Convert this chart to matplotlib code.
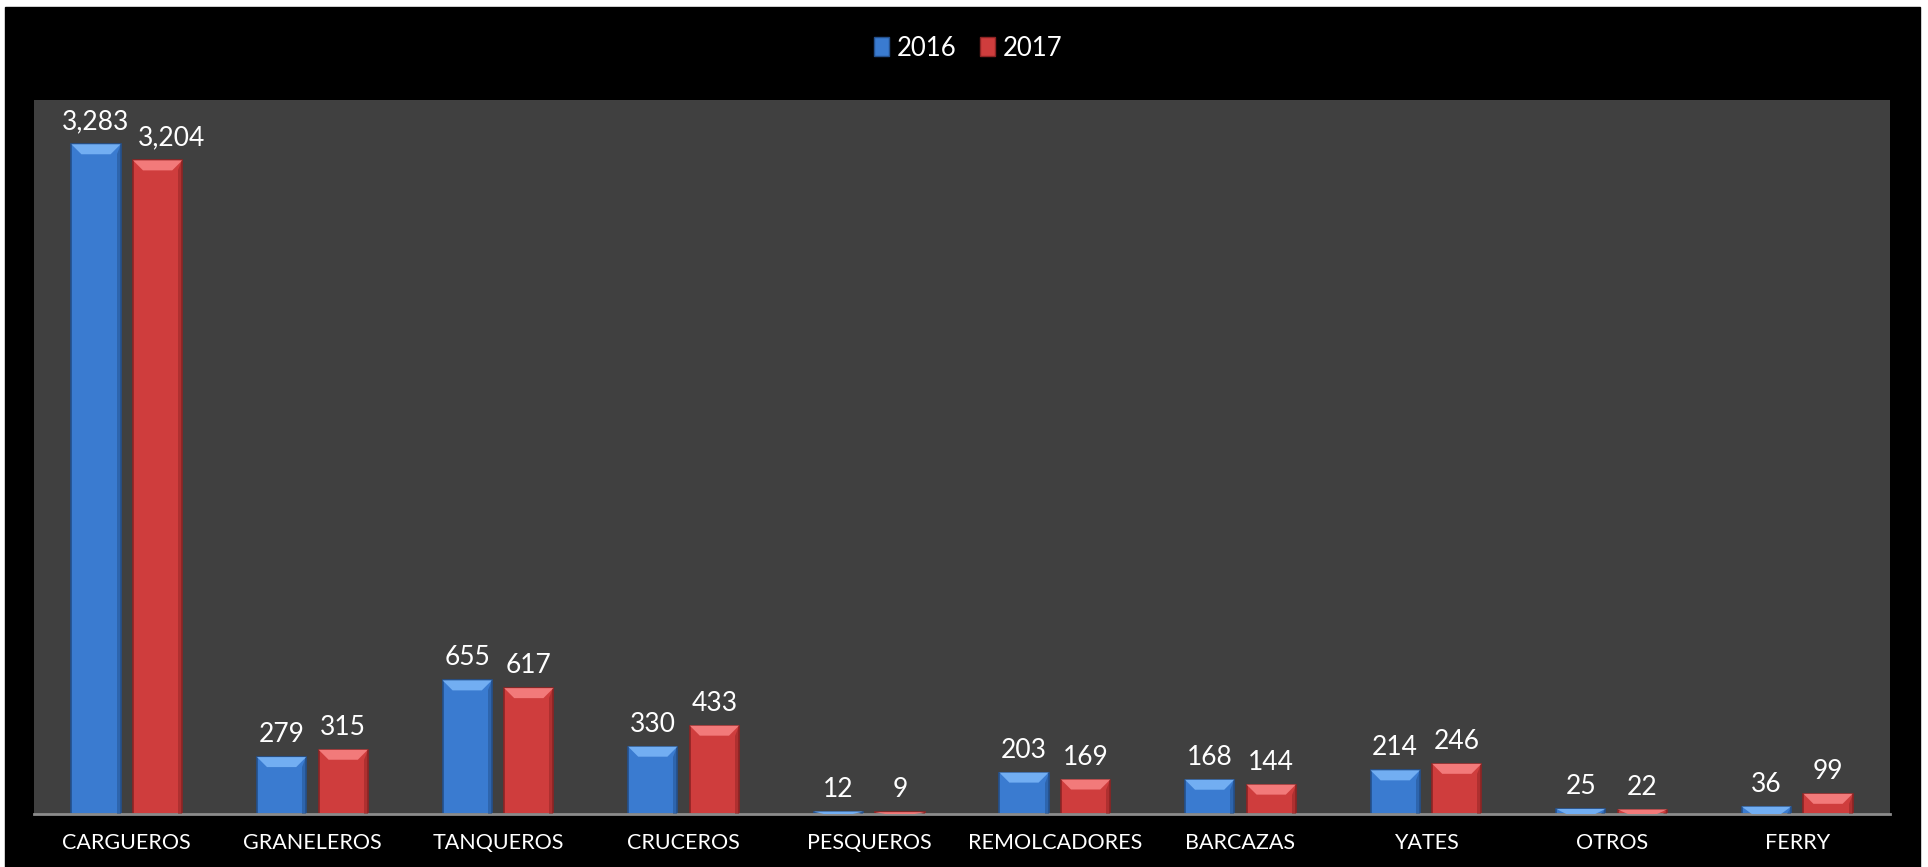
import numpy as np
import matplotlib
matplotlib.use('Agg')
import matplotlib.pyplot as plt
from matplotlib.patches import Polygon, Patch

categories = ['CARGUEROS', 'GRANELEROS', 'TANQUEROS', 'CRUCEROS', 'PESQUEROS',
              'REMOLCADORES', 'BARCAZAS', 'YATES', 'OTROS', 'FERRY']
values_2016 = [3283, 279, 655, 330, 12, 203, 168, 214, 25, 36]
values_2017 = [3204, 315, 617, 433, 9, 169, 144, 246, 22, 99]
series_names = ['2016', '2017']

plt.rcParams['font.family'] = ['Lato', 'DejaVu Sans']

W, H = 1928, 867
fig = plt.figure(figsize=(W / 100, H / 100), dpi=100, facecolor='white')
# black chart area inside a thin white border
fig.patches.append(plt.Rectangle((5 / W, 0), (1920 - 5) / W, 1 - 7 / H,
                                 transform=fig.transFigure, color='black', zorder=-5))

ax = fig.add_axes([34 / W, 1 - 814 / H, (1890 - 34) / W, (814 - 100) / H])
ax.set_facecolor('#404040')

x = np.arange(len(categories))
w = 0.265
off = 0.166
styles = {
    '2016': dict(main='#3a7bd0', light='#72aef2', dark='#24508c'),
    '2017': dict(main='#cf3d3d', light='#f27a7a', dark='#8e2424'),
}

ymax = 3500
ax.set_xlim(-0.5, len(categories) - 0.5)
ax.set_ylim(0, ymax)

# pixel -> data conversions for the bevel
ax_h_px = 814 - 100
ax_w_px = 1890 - 34
dy = ymax / ax_h_px
dx = len(categories) / ax_w_px

labels = {}
for name, vals, sign in [('2016', values_2016, -1), ('2017', values_2017, 1)]:
    st = styles[name]
    bars = ax.bar(x + sign * off, vals, width=w, color=st['main'],
                  edgecolor=st['dark'], linewidth=1.2, zorder=2)
    labels[name] = []
    for b, v in zip(bars, vals):
        x0, x1 = b.get_x(), b.get_x() + b.get_width()
        top = b.get_height()
        bev = min(10 * dy, top)
        bx = min(10 * dx, b.get_width() / 3)
        ax.add_patch(Polygon([(x0, top), (x1, top), (x1 - bx, top - bev), (x0 + bx, top - bev)],
                             closed=True, color=st['light'], zorder=3, lw=0))
        # side shading
        ax.add_patch(Polygon([(x1, top), (x1, 0), (x1 - 4 * dx, 0), (x1 - 4 * dx, top - bev)],
                             closed=True, color=st['dark'], alpha=0.5, zorder=3, lw=0))
        t = ax.text(b.get_x() + b.get_width() / 2, top + 10 * dy, f'{v:,}',
                    ha='center', va='bottom', color='white', fontsize=19, zorder=4)
        labels[name].append(t)

# push 2017 labels right when they collide with the 2016 label (like Excel does)
fig.canvas.draw()
r = fig.canvas.get_renderer()
for a, b in zip(labels['2016'], labels['2017']):
    ba, bb = a.get_window_extent(r), b.get_window_extent(r)
    if bb.x0 < ba.x1 + 8 and bb.y0 < ba.y1 and bb.y1 > ba.y0:
        shift = (ba.x1 + 8 - bb.x0) * dx
        px, py = b.get_position()
        b.set_position((px + shift, py))

for s in ['top', 'right', 'left']:
    ax.spines[s].set_visible(False)
ax.spines['bottom'].set_color('#8c8c8c')
ax.spines['bottom'].set_linewidth(2)
ax.set_yticks([])
ax.set_xticks(x)
ax.set_xticklabels(categories, color='white', fontsize=15.5)
ax.tick_params(axis='x', length=0, pad=14)

handles = [Patch(facecolor=styles[n]['main'], edgecolor=styles[n]['dark']) for n in series_names]
fig.legend(handles, series_names, loc='center', bbox_to_anchor=(968 / W, 1 - 48 / H),
           ncol=2, frameon=False, fontsize=18.5, labelcolor='white',
           handlelength=0.6, handleheight=0.8, handletextpad=0.3, columnspacing=0.9)

fig.savefig('out.png', dpi=100, facecolor=fig.get_facecolor())
